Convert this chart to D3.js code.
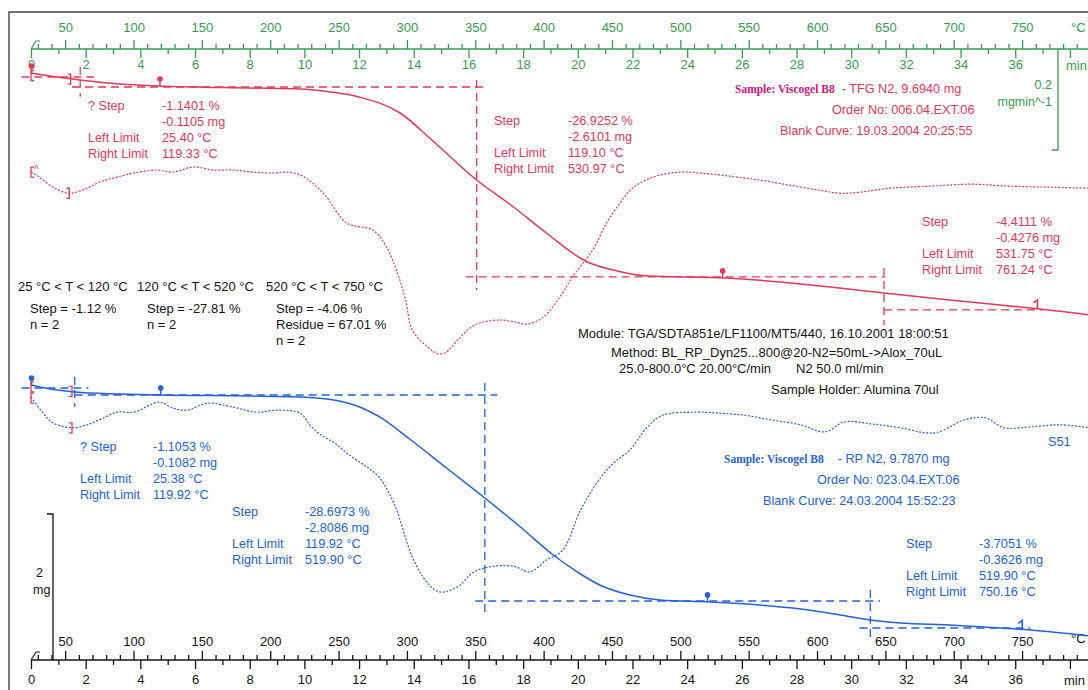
<!DOCTYPE html>
<html>
<head>
<meta charset="utf-8">
<script src="https://cdn.jsdelivr.net/npm/d3@7"></script>
<style>
  body { margin: 0; background: #fff; }
  svg { display: block; }
  text { font-family: "Liberation Sans", Arial, sans-serif; }
</style>
</head>
<body>
<div id="chart"></div>
<script>
// ---- data ----
// TG curves: temperature (°C) -> mass (mg)
const redTgT    = [25, 39, 61, 90, 119, 185, 222, 244, 265, 295, 319, 351, 378, 402, 432, 451, 476, 534, 573, 610, 649, 697, 734, 763, 800];
const redTgMass = [9.694, 9.653, 9.598, 9.543, 9.516, 9.488, 9.475, 9.434, 9.365, 9.146, 8.763, 8.228, 7.858, 7.502, 7.105, 6.995, 6.913, 6.886, 6.831, 6.762, 6.680, 6.584, 6.516, 6.461, 6.379];

const blueTgT    = [25, 39, 57, 90, 119, 185, 222, 244, 262, 280, 302, 329, 357, 383, 407, 427, 441, 463, 485, 522, 558, 588, 617, 639, 661, 697, 734, 756, 800];
const blueTgMass = [9.787, 9.732, 9.691, 9.664, 9.650, 9.636, 9.623, 9.588, 9.510, 9.349, 9.047, 8.650, 8.239, 7.842, 7.458, 7.198, 7.047, 6.910, 6.842, 6.814, 6.773, 6.719, 6.637, 6.568, 6.527, 6.499, 6.458, 6.431, 6.349];

// DTG curves: temperature (°C) -> mg/min (relative to the curve start)
const redDtgT = [25, 29, 41, 53, 66, 75, 88, 100, 117, 129, 144, 158, 173, 187, 202, 212, 222, 231, 241, 256, 275, 285, 293, 299, 304, 315, 323, 329, 337, 346, 353, 368, 379, 388, 400, 412, 421, 436, 446, 456, 465, 480, 500, 514, 536, 558, 580, 602, 617, 631, 653, 683, 712, 741, 770, 800];
const redDtgV = [-0.008, -0.014, -0.038, -0.050, -0.040, -0.028, -0.018, -0.010, -0.004, -0.008, 0.002, -0.004, -0.004, -0.008, -0.010, -0.008, -0.014, -0.030, -0.057, -0.109, -0.123, -0.156, -0.208, -0.261, -0.321, -0.354, -0.368, -0.364, -0.341, -0.317, -0.307, -0.301, -0.305, -0.309, -0.295, -0.255, -0.216, -0.162, -0.109, -0.069, -0.040, -0.018, -0.008, -0.010, -0.016, -0.024, -0.034, -0.044, -0.050, -0.048, -0.040, -0.036, -0.032, -0.036, -0.038, -0.040];

const blueDtgT = [25, 34, 41, 55, 66, 75, 88, 100, 119, 129, 139, 154, 173, 190, 205, 222, 229, 236, 247, 258, 271, 280, 291, 304, 315, 324, 337, 348, 359, 378, 390, 402, 414, 427, 439, 451, 463, 476, 487, 512, 529, 547, 566, 588, 606, 620, 639, 661, 686, 708, 723, 737, 756, 778, 800];
const blueDtgV = [-0.010, -0.042, -0.061, -0.071, -0.065, -0.055, -0.040, -0.040, -0.020, -0.032, -0.036, -0.022, -0.030, -0.040, -0.036, -0.042, -0.065, -0.083, -0.101, -0.125, -0.149, -0.170, -0.224, -0.327, -0.378, -0.396, -0.386, -0.358, -0.347, -0.345, -0.356, -0.333, -0.313, -0.234, -0.180, -0.141, -0.115, -0.069, -0.046, -0.040, -0.042, -0.046, -0.055, -0.065, -0.079, -0.059, -0.063, -0.071, -0.081, -0.055, -0.051, -0.071, -0.069, -0.065, -0.071];

// evaluation limits (°C), marked with pins on the TG curves
const redLimits  = [25.40, 119.33, 530.97, 761.24];
const blueLimits = [25.38, 119.92, 519.90, 750.16];

// tangent / limit lines of the step evaluations, [T, mass]
const redTangents  = [[[18, 9.639], [71, 9.639]], [[55, 9.502], [359, 9.502]], [[343, 6.900], [650, 6.900]], [[649, 6.448], [766, 6.448]]];
const redVerticals = [[61, 9.776, 9.37], [351, 9.598, 6.721], [649, 7.023, 6.242]];
const blueTangents  = [[[18, 9.746], [67, 9.746]], [[57, 9.650], [366, 9.650]], [[350, 6.828], [646, 6.828]], [[631, 6.458], [756, 6.458]]];
const blueVerticals = [[57, 9.897, 9.486], [357, 9.814, 6.677], [639, 6.979, 6.294]];

// axis ticks
const tempTicks = d3.range(30, 800, 10);
const minTicks = d3.range(0, 39, 1);

// annotation texts
const redStepText = [
  [["? Step", "-1.1401 %"], ["", "-0.1105 mg"], ["Left Limit", "25.40 °C"], ["Right Limit", "119.33 °C"]],
  [["Step", "-26.9252 %"], ["", "-2.6101 mg"], ["Left Limit", "119.10 °C"], ["Right Limit", "530.97 °C"]],
  [["Step", "-4.4111 %"], ["", "-0.4276 mg"], ["Left Limit", "531.75 °C"], ["Right Limit", "761.24 °C"]]
];
const blueStepText = [
  [["? Step", "-1.1053 %"], ["", "-0.1082 mg"], ["Left Limit", "25.38 °C"], ["Right Limit", "119.92 °C"]],
  [["Step", "-28.6973 %"], ["", "-2.8086 mg"], ["Left Limit", "119.92 °C"], ["Right Limit", "519.90 °C"]],
  [["Step", "-3.7051 %"], ["", "-0.3626 mg"], ["Left Limit", "519.90 °C"], ["Right Limit", "750.16 °C"]]
];
const rangeTitles = ["25 °C < T < 120 °C", "120 °C < T < 520 °C", "520 °C < T < 750 °C"];
const rangeStats = [["Step = -1.12 %", "n = 2"], ["Step = -27.81 %", "n = 2"], ["Step = -4.06 %", "Residue = 67.01 %", "n = 2"]];
const moduleLines = ["Module: TGA/SDTA851e/LF1100/MT5/440, 16.10.2001 18:00:51",
  "Method: BL_RP_Dyn25...800@20-N2=50mL->Alox_70uL",
  "25.0-800.0°C 20.00°C/min", "N2 50.0 ml/min", "Sample Holder: Alumina 70ul"];

// ---- colours ----
const RED = "#e4385a", BLUE = "#2462d8", GREEN = "#3a9c50", BLACK = "#141414";

const W = 1088, H = 690;
const svg = d3.select("#chart").append("svg").attr("width", W).attr("height", H);
svg.append("rect").attr("width", W).attr("height", H).attr("fill", "#fff");

// frame of the printout
svg.append("path").attr("d", "M9,690V12H1088").attr("fill", "none")
  .attr("stroke", "#444").attr("stroke-width", 1.4);

// ---- scales ----
const x = d3.scaleLinear().domain([25, 800]).range([31, 31 + 775 * 1.367]);
const xMin = d3.scaleLinear().domain([0, 38.75]).range(x.range());  // 20 °C/min
const yRedTg = d3.scaleLinear().domain([9.694, 5.694]).range([73, 73 + 4 * 73]);
const yBlueTg = d3.scaleLinear().domain([9.787, 5.787]).range([385, 385 + 4 * 73]);
const yRedDtg = d3.scaleLinear().domain([0, -0.4]).range([168, 168 + 0.4 * 505]);
const yBlueDtg = d3.scaleLinear().domain([0, -0.4]).range([392, 392 + 0.4 * 505]);

// ---- axes ----
function drawAxis(y, color, tPad, mPad) {
  const g = svg.append("g").attr("transform", `translate(0,${y})`);
  const top = g.append("g").call(d3.axisTop(x).tickValues(tempTicks).tickSize(5).tickPadding(tPad)
    .tickFormat(d => d % 50 === 0 ? d : ""));
  top.selectAll(".tick line").attr("y2", d => d % 50 === 0 ? -9 : -5);
  const bot = g.append("g").call(d3.axisBottom(xMin).tickValues(minTicks).tickSize(5).tickPadding(mPad)
    .tickFormat(d => d % 2 === 0 && d <= 36 ? d : ""));
  bot.selectAll(".tick line").attr("y2", d => d % 2 === 0 ? 9 : 5);
  g.selectAll(".domain").remove();
  g.selectAll("line").attr("stroke", color).attr("stroke-width", 1.3);
  g.selectAll("text").attr("fill", color).attr("font-size", 13)
    .style("font-family", '"Liberation Sans", Arial, sans-serif');
  g.append("line").attr("x1", x(25)).attr("x2", W).attr("stroke", color).attr("stroke-width", 1.4);
  g.append("path").attr("d", `M${x(25)},0l5,-8l4,0`).attr("fill", "none").attr("stroke", color).attr("stroke-width", 1.1);
  g.append("text").attr("x", 1071).attr("y", -17.5).attr("fill", color).attr("font-size", 13).text("°C");
  return g;
}
const topAxis = drawAxis(49, GREEN, 12, 6);
topAxis.append("text").attr("x", 1066).attr("y", 21).attr("fill", GREEN).attr("font-size", 13).text("min");
const botAxis = drawAxis(660, BLACK, 9, 10);
botAxis.append("text").attr("x", 1064).attr("y", 25).attr("fill", BLACK).attr("font-size", 13).text("min");

// scale bar 0.2 mg/min (DTG) on the top axis
svg.append("path").attr("d", `M1058,${yRedDtg(0) - 119}V${yRedDtg(0) - 119 + 0.2 * 505}h-6`)
  .attr("fill", "none").attr("stroke", GREEN).attr("stroke-width", 1.3);
svg.append("text").attr("x", 1052).attr("y", 89).attr("text-anchor", "end")
  .attr("fill", GREEN).attr("font-size", 12.5).text("0.2");
svg.append("text").attr("x", 1052).attr("y", 106).attr("text-anchor", "end")
  .attr("fill", GREEN).attr("font-size", 12.5).text("mgmin^-1");

// scale bar 2 mg (TG) on the bottom axis
svg.append("path").attr("d", `M47,${660 - 2 * 73}h6V660`)
  .attr("fill", "none").attr("stroke", BLACK).attr("stroke-width", 1.3);
svg.append("text").attr("x", 43).attr("y", 577).attr("text-anchor", "end").attr("fill", BLACK).attr("font-size", 12.5).text("2");
svg.append("text").attr("x", 33).attr("y", 594).attr("fill", BLACK).attr("font-size", 12.5).text("mg");

// ---- curves ----
function zip(a, b) { return a.map((d, i) => [d, b[i]]); }

function drawCurves(tgT, tgM, dtgT, dtgV, yTg, yDtg, color) {
  const g = svg.append("g");
  g.append("path").datum(zip(dtgT, dtgV))
    .attr("d", d3.line().x(d => x(d[0])).y(d => yDtg(d[1])).curve(d3.curveCatmullRom))
    .attr("fill", "none").attr("stroke", color).attr("stroke-width", 1.2).attr("stroke-dasharray", "2,1.6");
  g.append("path").datum(zip(tgT, tgM))
    .attr("d", d3.line().x(d => x(d[0])).y(d => yTg(d[1])).curve(d3.curveMonotoneX))
    .attr("fill", "none").attr("stroke", color).attr("stroke-width", 1.5);
  return g;
}
drawCurves(redTgT, redTgMass, redDtgT, redDtgV, yRedTg, yRedDtg, RED);
drawCurves(blueTgT, blueTgMass, blueDtgT, blueDtgV, yBlueTg, yBlueDtg, BLUE);

// ---- step evaluation lines and markers ----
function drawEval(tangents, verticals, limits, tgT, tgM, yTg, color) {
  const g = svg.append("g").attr("stroke", color).attr("stroke-width", 1.3).attr("fill", "none");
  tangents.forEach(seg => {
    g.append("line").attr("x1", x(seg[0][0])).attr("y1", yTg(seg[0][1]))
      .attr("x2", x(seg[1][0])).attr("y2", yTg(seg[1][1])).attr("stroke-dasharray", "8,5");
  });
  verticals.forEach(v => {
    g.append("line").attr("x1", x(v[0])).attr("x2", x(v[0]))
      .attr("y1", yTg(v[1])).attr("y2", yTg(v[2])).attr("stroke-dasharray", "8,5");
  });
  const mAt = d3.scaleLinear().domain(tgT).range(tgM);
  limits.forEach((t, i) => {
    const px = x(t), py = yTg(mAt(t));
    if (i === limits.length - 1) {
      g.append("path").attr("d", `M${px},${py}v-9l-4,3`).attr("stroke-width", 1.6);
    } else {
      g.append("line").attr("x1", px).attr("x2", px).attr("y1", py).attr("y2", py - 7).attr("stroke-width", 1.4);
      g.append("circle").attr("cx", px).attr("cy", py - 7).attr("r", 2.8).attr("fill", color).attr("stroke", "none");
    }
  });
}
drawEval(redTangents, redVerticals, redLimits, redTgT, redTgMass, yRedTg, RED);
drawEval(blueTangents, blueVerticals, blueLimits, blueTgT, blueTgMass, yBlueTg, BLUE);

// integration brackets (red) at the start of the curves
function bracket(px, py, open) {
  const s = open ? 3 : -3;
  svg.append("path").attr("d", `M${px + s},${py - 5}h${-s}v10h${s}`)
    .attr("fill", "none").attr("stroke", RED).attr("stroke-width", 1.3);
}
bracket(x(25), yRedTg(9.66), true);
bracket(x(54), yRedTg(9.61), false);
bracket(x(25), yRedDtg(-0.008), true);
svg.append("text").attr("x", x(25) + 3).attr("y", yRedDtg(-0.008) + 1).attr("fill", RED).attr("font-size", 10).text("^");
bracket(x(53), yRedDtg(-0.050), false);
bracket(x(25), yBlueTg(9.76), true);
bracket(x(55), yBlueTg(9.70), false);
bracket(x(25), yBlueDtg(-0.012), true);
bracket(x(55), yBlueDtg(-0.071), false);

// ---- text blocks ----
function stepBlock(rows, px, py, color, off) {
  const g = svg.append("g").attr("fill", color).attr("font-size", 12.7);
  rows.forEach((r, i) => {
    g.append("text").attr("x", px).attr("y", py + i * 16).attr("dy", "0.35em").text(r[0]);
    g.append("text").attr("x", px + off).attr("y", py + i * 16).attr("dy", "0.35em").text(r[1]);
  });
}
[[88, 106], [494, 121], [922, 222]].forEach((p, i) => stepBlock(redStepText[i], p[0], p[1], RED, 74));
[[80, 447], [232, 512], [906, 544]].forEach((p, i) => stepBlock(blueStepText[i], p[0], p[1], BLUE, 73));

// sample headers
function header(px, py, rest, dx, order, ox, blank, bx, color, titleColor) {
  const t = svg.append("text").attr("x", px).attr("y", py).attr("dy", "0.35em").attr("font-size", 12.7).attr("fill", color);
  t.append("tspan").style("font-family", '"Liberation Serif", "Times New Roman", serif')
    .attr("font-weight", "bold").attr("font-size", 11.5).attr("fill", titleColor).text("Sample: Viscogel B8");
  t.append("tspan").attr("dx", dx).text(rest);
  svg.append("text").attr("x", ox).attr("y", py + 21).attr("dy", "0.35em").attr("font-size", 12.7).attr("fill", color).text(order);
  svg.append("text").attr("x", bx).attr("y", py + 42).attr("dy", "0.35em").attr("font-size", 12.7).attr("fill", color).text(blank);
}
header(735, 89, "- TFG N2, 9.6940 mg", 7, "Order No: 006.04.EXT.06", 832, "Blank Curve: 19.03.2004 20:25:55", 780, RED, "#d2167c");
header(724, 459, "- RP N2, 9.7870 mg", 14, "Order No: 023.04.EXT.06", 817, "Blank Curve: 24.03.2004 15:52:23", 763, BLUE, BLUE);
svg.append("text").attr("x", 1048).attr("y", 442).attr("dy", "0.35em").attr("font-size", 12.7).attr("fill", BLUE).text("S51");

// range statistics
const statG = svg.append("g").attr("fill", BLACK).attr("font-size", 13);
[18, 137, 266].forEach((px, i) => {
  statG.append("text").attr("x", px).attr("y", 286).attr("dy", "0.35em").text(rangeTitles[i]);
  rangeStats[i].forEach((s, j) => {
    statG.append("text").attr("x", px + (i === 0 ? 12 : 10)).attr("y", 308 + j * 16).attr("dy", "0.35em").text(s);
  });
});

// module / method info
const modG = svg.append("g").attr("fill", BLACK).attr("font-size", 13);
[[578, 333], [611, 352], [619, 368], [796, 368], [771, 389]].forEach((p, i) => {
  modG.append("text").attr("x", p[0]).attr("y", p[1]).attr("dy", "0.35em").text(moduleLines[i]);
});
</script>
</body>
</html>
